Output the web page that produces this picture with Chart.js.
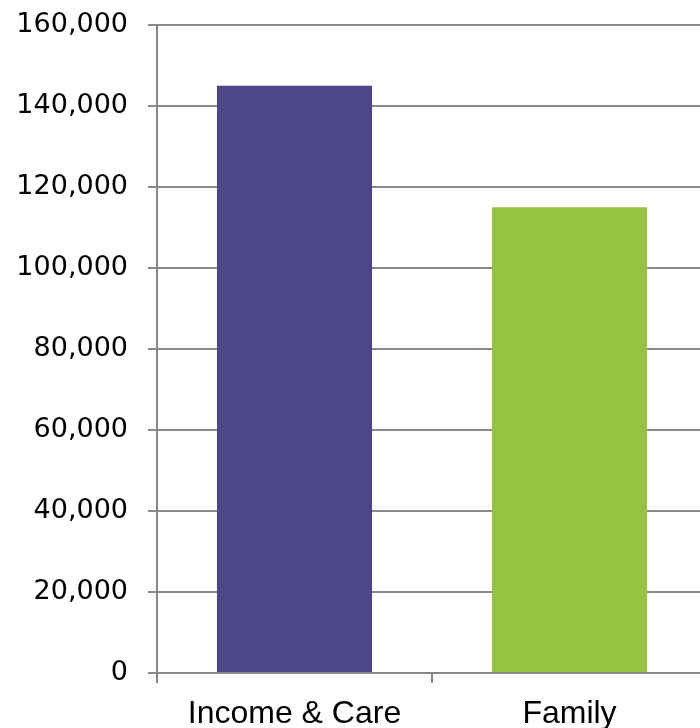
<!DOCTYPE html>
<html>
<head>
<meta charset="utf-8">
<script src="https://cdn.jsdelivr.net/npm/chart.js@4/dist/chart.umd.min.js"></script>
<style>
  html, body { margin: 0; padding: 0; background: #fff; overflow: hidden; }
  #wrap { width: 707px; height: 728px; }
</style>
</head>
<body>
<div id="wrap"><canvas id="chart" width="707" height="728"></canvas></div>
<script>
const categories = ["Income & Care", "Family"];
const values = [145000, 115000];
const barColors = ["#4E4787", "#96C341"];
const yMax = 160000;
const yStep = 20000;

const gridGray = "#888888";

new Chart(document.getElementById("chart"), {
  type: "bar",
  data: {
    labels: categories,
    datasets: [{
      data: values,
      backgroundColor: barColors,
      borderWidth: 0,
      categoryPercentage: 1,
      barPercentage: 0.564,
    }],
  },
  options: {
    responsive: false,
    animation: false,
    layout: { padding: { top: 25, left: 0, right: 0, bottom: 0 } },
    plugins: {
      legend: { display: false },
      tooltip: { enabled: false },
    },
    scales: {
      x: {
        grid: {
          offset: true,
          drawOnChartArea: false,
          drawTicks: true,
          tickLength: 10,
          color: gridGray,
          lineWidth: 2,
        },
        border: { display: true, color: gridGray, width: 2 },
        ticks: {
          color: "#000",
          padding: 12,
          font: { family: "'Liberation Sans', Arial, sans-serif", size: 32 },
        },
        afterFit: (scale) => { scale.height = 55; },
      },
      y: {
        min: 0,
        max: yMax,
        grid: {
          color: gridGray,
          lineWidth: 2,
          tickLength: 9,
        },
        border: { display: true, color: gridGray, width: 2 },
        ticks: {
          stepSize: yStep,
          color: "#000",
          padding: 20,
          font: { family: "'DejaVu Sans', sans-serif", size: 27 },
          callback: (v) => v.toLocaleString("en-US"),
        },
        afterFit: (scale) => {
          scale.width = 157;
          scale.paddingTop = 0;
          scale.paddingBottom = 0;
        },
      },
    },
  },
});
</script>
</body>
</html>
